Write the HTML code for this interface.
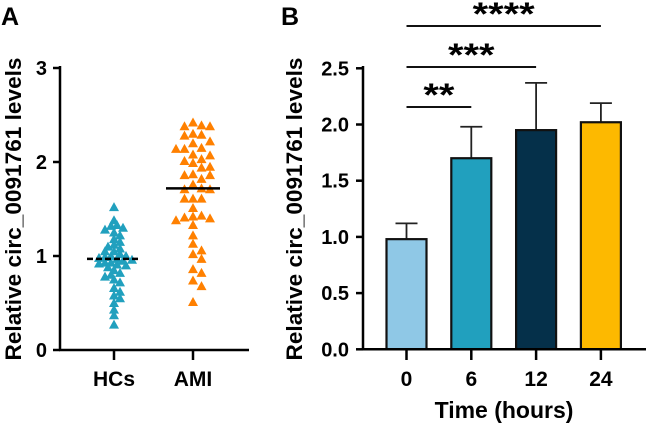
<!DOCTYPE html>
<html><head><meta charset="utf-8"><style>
html,body{margin:0;padding:0;background:#fff}
svg{display:block;font-family:"Liberation Sans",Arial,sans-serif;font-weight:bold}
</style></head><body>
<svg id="fig" width="646" height="424" viewBox="0 0 646 424">
<text x="1" y="25" font-size="25">A</text>
<text x="281" y="25" font-size="25">B</text>
<g id="pa"></g>
<g id="pb"></g>
</svg>
<script>
const groupsA = ["HCs","AMI"];
const hcValues = [1.52,1.38,1.33,1.32,1.30,1.28,1.25,1.22,1.18,1.15,1.12,1.10,1.08,1.05,1.05,1.02,1.00,1.00,0.99,0.98,0.97,0.96,0.95,0.93,0.93,0.92,0.91,0.90,0.88,0.85,0.82,0.80,0.78,0.75,0.72,0.66,0.62,0.58,0.55,0.50,0.43,0.37,0.27];
const amiValues = [2.42,2.39,2.38,2.38,2.30,2.29,2.28,2.22,2.20,2.15,2.14,2.14,2.08,2.07,2.03,2.01,1.99,1.95,1.94,1.87,1.86,1.86,1.82,1.76,1.72,1.71,1.71,1.61,1.61,1.61,1.51,1.43,1.42,1.41,1.40,1.38,1.33,1.22,1.13,1.06,1.02,0.97,0.86,0.82,0.74,0.68,0.51];
const mediansA = [0.97,1.72];
const ticksA = [0,1,2,3];
const categoriesB = ["0","6","12","24"];
const meansB = [0.98,1.70,1.95,2.02];
const errorsB = [0.14,0.28,0.42,0.17];
const ticksB = ["0.0","0.5","1.0","1.5","2.0","2.5"];
const sigLabels = ["**","***","****"];
const sigTargets = [1,2,3];
const colorsB = ["#8fc8e6","#21a0be","#05304a","#fdb900"];
const NS="http://www.w3.org/2000/svg";
function mk(p,t,a,txt){const e=document.createElementNS(NS,t);for(const k in a)e.setAttribute(k,a[k]);if(txt!==undefined)e.textContent=txt;p.appendChild(e);return e;}
// Panel A
const pa=document.getElementById('pa');
const yA=v=>350-v*94;
const xA=i=>114+i*79;
let e;
e=mk(pa,'line',{x1:60,y1:66,x2:60,y2:351,stroke:'#000','stroke-width':2.5});

e=mk(pa,'line',{x1:59,y1:350,x2:249,y2:350,stroke:'#000','stroke-width':2.5});

ticksA.forEach(t=>{
 e=mk(pa,'line',{x1:53,y1:yA(t),x2:60,y2:yA(t),stroke:'#000','stroke-width':2.5});
 
 e=mk(pa,'text',{x:47,y:yA(t)+7,'font-size':20,'text-anchor':'end'},String(t));
 
});
groupsA.forEach((g,i)=>{
 e=mk(pa,'line',{x1:xA(i),y1:350,x2:xA(i),y2:360,stroke:'#000','stroke-width':2.5});
 
 e=mk(pa,'text',{x:xA(i),y:386,'font-size':21,'text-anchor':'middle'},g);
 
});
e=mk(pa,'text',{x:0,y:0,'font-size':22,'text-anchor':'middle',textLength:303,lengthAdjust:'spacingAndGlyphs',transform:'translate(21,209) rotate(-90)'},'Relative circ_0091761 levels');

function swarm(vals,cx,color,name,step,dmin){
 const placed=[];
 vals.forEach(v=>{
  const y=yA(v);let x=cx;
  for(let k=0;k<40;k++){
   const off=(k%2?1:-1)*Math.ceil(k/2)*step;
   const tx=cx+off;
   if(placed.every(p=>(p[0]-tx)**2+(p[1]-y)**2>=dmin*dmin)){x=tx;break;}
  }
  placed.push([x,y]);
  e=mk(pa,'polygon',{points:`${x},${y-5} ${x-5},${y+4} ${x+5},${y+4}`,fill:color});
  
 });
}
swarm(hcValues,xA(0),'#21a0be','hc-point',3,5.5);
swarm(amiValues,xA(1),'#ff8000','ami-point',8.5,8);
mediansA.forEach((m,i)=>{
 e=mk(pa,'line',{x1:xA(i)-27,y1:yA(m),x2:xA(i)+27,y2:yA(m),stroke:'#000','stroke-width':2.5,'stroke-dasharray':i==0?'6,3':'none'});
 
});
// Panel B
const pb=document.getElementById('pb');
const yB=v=>349.3-v*112.4;
const xB=i=>406.5+i*64.8;
ticksB.forEach(t=>{
 const v=parseFloat(t);
 e=mk(pb,'line',{x1:356,y1:yB(v),x2:363,y2:yB(v),stroke:'#000','stroke-width':2.5});
 
 e=mk(pb,'text',{x:349,y:yB(v)+7,'font-size':20,'text-anchor':'end'},t);
 
});
categoriesB.forEach((c,i)=>{
 const x=xB(i),w=40;
 e=mk(pb,'line',{x1:x,y1:yB(meansB[i]),x2:x,y2:yB(meansB[i]+errorsB[i]),stroke:'#222','stroke-width':1.8});
 
 e=mk(pb,'line',{x1:x-11,y1:yB(meansB[i]+errorsB[i]),x2:x+11,y2:yB(meansB[i]+errorsB[i]),stroke:'#222','stroke-width':1.8});
 
 e=mk(pb,'rect',{x:x-w/2,y:yB(meansB[i]),width:w,height:yB(0)-yB(meansB[i]),fill:colorsB[i],stroke:'#111','stroke-width':2.2});
 
 e=mk(pb,'line',{x1:x,y1:349,x2:x,y2:360,stroke:'#000','stroke-width':2.5});
 
 e=mk(pb,'text',{x:x,y:386,'font-size':21,'text-anchor':'middle'},c);
 
});
e=mk(pb,'line',{x1:363,y1:66,x2:363,y2:350.5,stroke:'#000','stroke-width':2.5});

e=mk(pb,'line',{x1:362,y1:349.3,x2:646,y2:349.3,stroke:'#000','stroke-width':2.5});

e=mk(pb,'text',{x:504,y:418,'font-size':23,'text-anchor':'middle'},'Time (hours)');

e=mk(pb,'text',{x:0,y:0,'font-size':22,'text-anchor':'middle',textLength:303,lengthAdjust:'spacingAndGlyphs',transform:'translate(302,209) rotate(-90)'},'Relative circ_0091761 levels');

const sigY=[107,67,26];
sigLabels.forEach((s,k)=>{
 const x1=xB(0),x2=xB(sigTargets[k]);
 e=mk(pb,'line',{x1:x1,y1:sigY[k],x2:x2,y2:sigY[k],stroke:'#111','stroke-width':2});
 
 e=mk(pb,'text',{x:(x1+x2)/2,y:sigY[k]-1,'font-size':32,'text-anchor':'middle',textLength:s.length*15.5,lengthAdjust:'spacingAndGlyphs'},s);
 
});
</script>
</body></html>
